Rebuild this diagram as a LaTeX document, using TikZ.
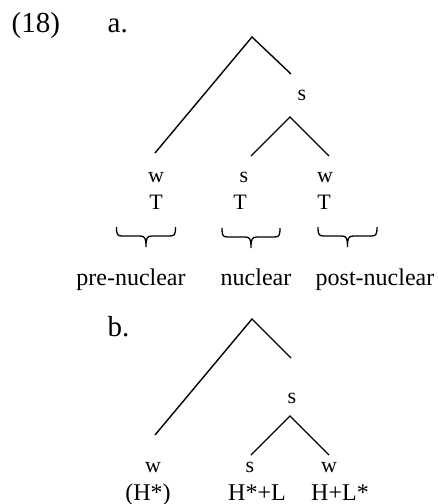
\documentclass[tikz,border=0pt]{standalone}
\usepackage{fontspec}
\setmainfont{Liberation Serif}
\begin{document}
\begin{tikzpicture}[x=1pt,y=-1pt,line width=1.4pt,
  lab/.style={anchor=base,inner sep=0pt,font=\fontsize{22}{26}\selectfont},
  word/.style={anchor=base,inner sep=0pt,font=\fontsize{24}{28}\selectfont},
  num/.style={anchor=base west,inner sep=0pt,font=\fontsize{29}{34}\selectfont},
  tbrace/.pic={\draw[line width=1.3pt]
    (-#1,0) .. controls (-#1,8) and (-#1+1,9) .. (-#1+6,9) -- (-6,9)
    .. controls (-1,9) and (0,11) .. (0,20)
    .. controls (0,11) and (1,9) .. (6,9) -- (#1-6,9)
    .. controls (#1-1,9) and (#1,8) .. (#1,0);}]
\useasboundingbox (0,0) rectangle (438,504);

% (a)
\node[num] (ex) at (11,32) {(18)};
\node[num] (la) at (107,32) {a.};

\coordinate (atop) at (252,37);
\coordinate (aleft) at (155,153);
\coordinate (aright) at (291,74);
\node[lab] (as) at (302,100) {s};
\coordinate (asub) at (290,117);
\coordinate (asubl) at (251,156);
\coordinate (asubr) at (329,156);

\draw (aleft) -- (atop) -- (aright);
\draw (asubl) -- (asub) -- (asubr);

\node[lab] (aw1) at (156,182) {w};
\node[lab] (as2) at (244,182) {s};
\node[lab] (aw3) at (325,182) {w};
\node[lab] (at1) at (156,209) {T};
\node[lab] (at2) at (240,209) {T};
\node[lab] (at3) at (324,209) {T};

\pic (br1) at (146,227) {tbrace=29.5};
\pic (br2) at (251,228) {tbrace=29};
\pic (br3) at (347.5,227) {tbrace=29.5};

\node[word] (pre) at (131,285) {pre-nuclear};
\node[word] (nuc) at (256,285) {nuclear};
\node[word] (post) at (375,285) {post-nuclear};

% (b)
\node[num] (lb) at (107,336) {b.};

\coordinate (btop) at (252,319);
\coordinate (bleft) at (155,435);
\coordinate (bright) at (291,358);
\node[lab] (bs) at (292,403) {s};
\coordinate (bsub) at (290,416);
\coordinate (bsubl) at (251,455);
\coordinate (bsubr) at (329,455);

\draw (bleft) -- (btop) -- (bright);
\draw (bsubl) -- (bsub) -- (bsubr);

\node[lab] (bw1) at (153,472) {w};
\node[lab] (bs2) at (250,472) {s};
\node[lab] (bw3) at (329,472) {w};
\node[word] (bh1) at (148,500) {(H*)};
\node[word] (bh2) at (257,500) {H*+L};
\node[word] (bh3) at (340,500) {H+L*};
\end{tikzpicture}
\end{document}
